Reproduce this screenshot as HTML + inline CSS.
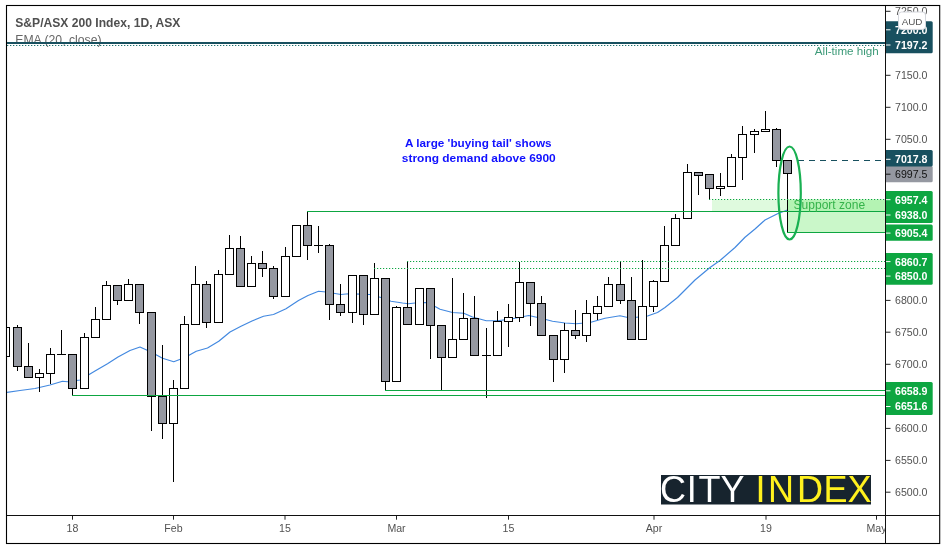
<!DOCTYPE html>
<html><head><meta charset="utf-8"><title>S&amp;P/ASX 200 Index</title>
<style>
html,body{margin:0;padding:0;background:#fff;}
body{width:946px;height:550px;overflow:hidden;font-family:"Liberation Sans",sans-serif;}
svg{display:block}
.ax{font-family:"Liberation Sans",sans-serif;font-size:10.6px;fill:#525252}
.axb{font-family:"Liberation Sans",sans-serif;font-size:10.6px;font-weight:bold}
</style></head><body>
<svg width="946" height="550" viewBox="0 0 946 550">
<rect width="946" height="550" fill="#fff"/>
<defs><clipPath id="plot"><rect x="7" y="6" width="879" height="509.5"/></clipPath><clipPath id="xax"><rect x="7" y="516" width="878.5" height="27"/></clipPath></defs>
<!-- title -->
<text x="15.3" y="27.2" font-size="12.2" font-weight="bold" fill="#505050" textLength="165" lengthAdjust="spacingAndGlyphs">S&amp;P/ASX 200 Index, 1D, ASX</text>
<text x="15.3" y="44" font-size="12" fill="#666" textLength="86.2" lengthAdjust="spacingAndGlyphs">EMA (20, close)</text>
<g clip-path="url(#plot)">
<!-- support zones -->
<rect x="712" y="199.5" width="174" height="12" fill="#5ee85a" fill-opacity="0.2"/>
<rect x="788" y="199.5" width="98" height="33" fill="#5ee85a" fill-opacity="0.33"/>
<!-- all time high -->
<line x1="7" y1="43" x2="886" y2="43" stroke="#18505f" stroke-width="2.2"/>
<line x1="7" y1="45.5" x2="886" y2="45.5" stroke="#21706f" stroke-width="1.1" stroke-dasharray="1.3 1.7"/>
<text x="878.8" y="54.6" text-anchor="end" font-size="10.8" fill="#3c9a78" textLength="64" lengthAdjust="spacingAndGlyphs">All-time high</text>
<!-- EMA -->
<path d="M6.5,392.5 L20,390.5 L35,388.5 L50,385 L62.5,381.25 L67.5,381.75 L80,380 L95,371 L107.5,363.75 L118,357 L130,350.5 L140,347 L151,352 L162.5,358.25 L173.75,361.75 L185,357.5 L196.25,351.25 L207.5,348 L218.75,341.25 L230,332 L241,326.25 L252,321 L263.5,316.25 L273.5,314.5 L286,308.75 L298.5,300.5 L308,295.5 L318.5,291.25 L326,292 L341,294.5 L348.5,293.75 L360,294.2 L369.75,294.5 L381,297.5 L391,301.25 L402.5,303 L408.5,303.75 L415,303 L426,302.5 L436,307 L440,309.25 L452.5,312.5 L463.75,313.25 L472.5,317 L486.25,320.75 L497.5,320.75 L512.5,318.75 L528.75,315.5 L540,318 L552.5,321.25 L565,323 L576.25,323.75 L590,322.5 L605,318.25 L620,315.75 L630,318 L647.5,316 L657.5,312.5 L665,307.5 L677.5,297.5 L695,280 L710,267.5 L720,260.5 L735,247.5 L745,237.25 L755,229 L765,220 L777.5,213.75 L787.5,210" fill="none" stroke="#4389e0" stroke-width="1.2" stroke-linejoin="round"/>
<!-- candles -->
<g stroke="#000" stroke-width="1">
<rect x="1.5" y="327.5" width="8" height="29.0" fill="#fff"/>
<line x1="17.5" y1="325" x2="17.5" y2="371"/><rect x="13.5" y="327.5" width="8" height="39.0" fill="#9598a1"/>
<line x1="28.5" y1="343" x2="28.5" y2="377.5"/><rect x="24.5" y="366.5" width="8" height="11.0" fill="#9598a1"/>
<line x1="39.5" y1="369" x2="39.5" y2="392"/><rect x="35.5" y="373.5" width="8" height="4.0" fill="#fff"/>
<line x1="50.5" y1="348" x2="50.5" y2="384"/><rect x="46.5" y="354.5" width="8" height="19.0" fill="#fff"/>
<line x1="61.5" y1="330" x2="61.5" y2="354.5"/><line x1="57.0" y1="354.5" x2="66.0" y2="354.5"/>
<line x1="72.5" y1="354.5" x2="72.5" y2="396"/><rect x="68.5" y="354.5" width="8" height="34.0" fill="#9598a1"/>
<line x1="84.5" y1="333" x2="84.5" y2="388.5"/><rect x="80.5" y="337.5" width="8" height="51.0" fill="#fff"/>
<line x1="95.5" y1="307" x2="95.5" y2="337.5"/><rect x="91.5" y="319.5" width="8" height="18.0" fill="#fff"/>
<line x1="106.5" y1="281" x2="106.5" y2="319.5"/><rect x="102.5" y="285.5" width="8" height="34.0" fill="#fff"/>
<line x1="117.5" y1="285.5" x2="117.5" y2="305"/><rect x="113.5" y="285.5" width="8" height="15.0" fill="#9598a1"/>
<line x1="128.5" y1="279" x2="128.5" y2="300.5"/><rect x="124.5" y="284.5" width="8" height="16.0" fill="#fff"/>
<line x1="139.5" y1="284.5" x2="139.5" y2="324"/><rect x="135.5" y="284.5" width="8" height="28.0" fill="#9598a1"/>
<line x1="151.5" y1="312.5" x2="151.5" y2="431"/><rect x="147.5" y="312.5" width="8" height="84.0" fill="#9598a1"/>
<line x1="162.5" y1="345" x2="162.5" y2="439"/><rect x="158.5" y="396.5" width="8" height="27.0" fill="#9598a1"/>
<line x1="173.5" y1="380" x2="173.5" y2="482"/><rect x="169.5" y="388.5" width="8" height="35.0" fill="#fff"/>
<line x1="184.5" y1="316" x2="184.5" y2="388.5"/><rect x="180.5" y="324.5" width="8" height="64.0" fill="#fff"/>
<line x1="195.5" y1="266" x2="195.5" y2="324.5"/><rect x="191.5" y="284.5" width="8" height="40.0" fill="#fff"/>
<line x1="206.5" y1="281" x2="206.5" y2="328"/><rect x="202.5" y="284.5" width="8" height="38.0" fill="#9598a1"/>
<line x1="218.5" y1="270" x2="218.5" y2="322.5"/><rect x="214.5" y="274.5" width="8" height="48.0" fill="#fff"/>
<line x1="229.5" y1="235" x2="229.5" y2="274.5"/><rect x="225.5" y="248.5" width="8" height="26.0" fill="#fff"/>
<line x1="240.5" y1="236" x2="240.5" y2="286.5"/><rect x="236.5" y="248.5" width="8" height="38.0" fill="#9598a1"/>
<line x1="251.5" y1="256" x2="251.5" y2="286.5"/><rect x="247.5" y="263.5" width="8" height="23.0" fill="#fff"/>
<line x1="262.5" y1="251" x2="262.5" y2="277"/><rect x="258.5" y="263.5" width="8" height="5.0" fill="#9598a1"/>
<line x1="273.5" y1="266" x2="273.5" y2="299"/><rect x="269.5" y="268.5" width="8" height="28.0" fill="#9598a1"/>
<line x1="285.5" y1="247" x2="285.5" y2="296.5"/><rect x="281.5" y="256.5" width="8" height="40.0" fill="#fff"/>
<rect x="292.5" y="225.5" width="8" height="31.0" fill="#fff"/>
<line x1="307.5" y1="211" x2="307.5" y2="260"/><rect x="303.5" y="225.5" width="8" height="20.0" fill="#9598a1"/>
<line x1="318.5" y1="226" x2="318.5" y2="253"/><line x1="314.0" y1="245.5" x2="323.0" y2="245.5"/>
<line x1="329.5" y1="244" x2="329.5" y2="320"/><rect x="325.5" y="245.5" width="8" height="59.0" fill="#9598a1"/>
<line x1="340.5" y1="284" x2="340.5" y2="316"/><rect x="336.5" y="304.5" width="8" height="8.0" fill="#9598a1"/>
<line x1="352.5" y1="275.5" x2="352.5" y2="323"/><rect x="348.5" y="275.5" width="8" height="37.0" fill="#fff"/>
<line x1="363.5" y1="275.5" x2="363.5" y2="325"/><rect x="359.5" y="275.5" width="8" height="39.0" fill="#9598a1"/>
<line x1="374.5" y1="263" x2="374.5" y2="314.5"/><rect x="370.5" y="278.5" width="8" height="36.0" fill="#fff"/>
<line x1="385.5" y1="278.5" x2="385.5" y2="390"/><rect x="381.5" y="278.5" width="8" height="103.0" fill="#9598a1"/>
<line x1="396.5" y1="306" x2="396.5" y2="382"/><rect x="392.5" y="307.5" width="8" height="74.0" fill="#fff"/>
<line x1="407.5" y1="261" x2="407.5" y2="324.5"/><rect x="403.5" y="307.5" width="8" height="17.0" fill="#9598a1"/>
<rect x="415.5" y="288.5" width="8" height="36.0" fill="#fff"/>
<line x1="430.5" y1="288.5" x2="430.5" y2="359"/><rect x="426.5" y="288.5" width="8" height="37.0" fill="#9598a1"/>
<line x1="441.5" y1="325.5" x2="441.5" y2="390"/><rect x="437.5" y="325.5" width="8" height="32.0" fill="#9598a1"/>
<line x1="452.5" y1="278" x2="452.5" y2="357.5"/><rect x="448.5" y="339.5" width="8" height="18.0" fill="#fff"/>
<line x1="463.5" y1="293" x2="463.5" y2="339.5"/><rect x="459.5" y="318.5" width="8" height="21.0" fill="#fff"/>
<line x1="474.5" y1="296" x2="474.5" y2="355.5"/><rect x="470.5" y="318.5" width="8" height="37.0" fill="#9598a1"/>
<line x1="486.5" y1="328" x2="486.5" y2="398"/><line x1="482.0" y1="355.5" x2="491.0" y2="355.5"/>
<line x1="497.5" y1="311" x2="497.5" y2="355.5"/><rect x="493.5" y="321.5" width="8" height="34.0" fill="#fff"/>
<line x1="508.5" y1="304" x2="508.5" y2="347"/><rect x="504.5" y="317.5" width="8" height="4.0" fill="#fff"/>
<line x1="519.5" y1="262" x2="519.5" y2="322"/><rect x="515.5" y="282.5" width="8" height="35.0" fill="#fff"/>
<line x1="530.5" y1="282.5" x2="530.5" y2="326"/><rect x="526.5" y="282.5" width="8" height="21.0" fill="#9598a1"/>
<line x1="541.5" y1="296" x2="541.5" y2="335.5"/><rect x="537.5" y="303.5" width="8" height="32.0" fill="#9598a1"/>
<line x1="553.5" y1="335.5" x2="553.5" y2="382"/><rect x="549.5" y="335.5" width="8" height="24.0" fill="#9598a1"/>
<line x1="564.5" y1="323" x2="564.5" y2="373"/><rect x="560.5" y="330.5" width="8" height="29.0" fill="#fff"/>
<line x1="575.5" y1="310" x2="575.5" y2="339"/><rect x="571.5" y="330.5" width="8" height="5.0" fill="#9598a1"/>
<line x1="586.5" y1="300" x2="586.5" y2="342"/><rect x="582.5" y="313.5" width="8" height="22.0" fill="#fff"/>
<line x1="597.5" y1="296" x2="597.5" y2="320"/><rect x="593.5" y="306.5" width="8" height="7.0" fill="#fff"/>
<line x1="608.5" y1="277" x2="608.5" y2="306.5"/><rect x="604.5" y="284.5" width="8" height="22.0" fill="#fff"/>
<line x1="620.5" y1="261" x2="620.5" y2="304"/><rect x="616.5" y="284.5" width="8" height="16.0" fill="#9598a1"/>
<line x1="631.5" y1="277" x2="631.5" y2="339.5"/><rect x="627.5" y="300.5" width="8" height="39.0" fill="#9598a1"/>
<line x1="642.5" y1="260" x2="642.5" y2="339.5"/><rect x="638.5" y="306.5" width="8" height="33.0" fill="#fff"/>
<line x1="653.5" y1="280" x2="653.5" y2="312"/><rect x="649.5" y="281.5" width="8" height="25.0" fill="#fff"/>
<line x1="664.5" y1="226" x2="664.5" y2="281.5"/><rect x="660.5" y="245.5" width="8" height="36.0" fill="#fff"/>
<line x1="675.5" y1="214" x2="675.5" y2="245.5"/><rect x="671.5" y="218.5" width="8" height="27.0" fill="#fff"/>
<line x1="687.5" y1="164" x2="687.5" y2="218.5"/><rect x="683.5" y="172.5" width="8" height="46.0" fill="#fff"/>
<line x1="698.5" y1="172.5" x2="698.5" y2="195"/><rect x="694.5" y="172.5" width="8" height="3.0" fill="#9598a1"/>
<line x1="709.5" y1="174.5" x2="709.5" y2="200"/><rect x="705.5" y="174.5" width="8" height="14.0" fill="#9598a1"/>
<line x1="720.5" y1="173" x2="720.5" y2="196"/><rect x="716.5" y="186.5" width="8" height="2.0" fill="#fff"/>
<line x1="731.5" y1="154" x2="731.5" y2="186.5"/><rect x="727.5" y="157.5" width="8" height="29.0" fill="#fff"/>
<line x1="742.5" y1="126" x2="742.5" y2="180"/><rect x="738.5" y="134.5" width="8" height="23.0" fill="#fff"/>
<line x1="754.5" y1="129" x2="754.5" y2="153"/><rect x="750.5" y="131.5" width="8" height="3.0" fill="#fff"/>
<line x1="765.5" y1="111" x2="765.5" y2="131.5"/><rect x="761.5" y="129.5" width="8" height="2.0" fill="#fff"/>
<line x1="776.5" y1="128" x2="776.5" y2="167"/><rect x="772.5" y="129.5" width="8" height="31.0" fill="#9598a1"/>
<line x1="787.5" y1="160.5" x2="787.5" y2="232"/><rect x="783.5" y="160.5" width="8" height="13.0" fill="#9598a1"/>
</g>
<!-- green levels -->
<path d="M307,211.5H886 M72,395.5H886 M385,390.5H886 M787,232.5H886" stroke="#0da641" stroke-width="1.15" fill="none"/>
<path d="M709,199.5H886 M407,261.5H886 M374,268.5H886" stroke="#0da641" stroke-width="1.1" stroke-dasharray="1.2 1.8" fill="none"/>
<line x1="798" y1="160.5" x2="886" y2="160.5" stroke="#18505f" stroke-width="1.1" stroke-dasharray="6 5"/>
<text x="793.6" y="209.3" font-size="12" fill="#35b34a" textLength="71.5" lengthAdjust="spacingAndGlyphs">Support zone</text>
<ellipse cx="789.6" cy="193" rx="11.2" ry="46.5" fill="none" stroke="#19b052" stroke-width="2.2"/>
<!-- annotation -->
<g font-size="11.8" font-weight="bold" fill="#1010ff" text-anchor="middle">
<text x="478.3" y="146.8" textLength="146.6" lengthAdjust="spacingAndGlyphs">A large 'buying tail' shows</text>
<text x="478.8" y="162" textLength="153.9" lengthAdjust="spacingAndGlyphs">strong demand above 6900</text>
</g>
<!-- logo -->
<rect x="661" y="475" width="210" height="29.5" fill="#17242e"/>
<text x="673.1 691.85 709.55 732.55" y="502.3" font-size="36" fill="#fff" text-anchor="middle">CITY</text>
<text x="760.6 781 810.1 835.6 859.6" y="502.3" font-size="36" fill="#fff11e" text-anchor="middle">INDEX</text>
</g>
<!-- axes -->
<line x1="886" y1="11.3" x2="890.5" y2="11.3" stroke="#222" stroke-width="1"/><text x="895" y="15.100000000000001" class="ax">7250.0</text><line x1="886" y1="29.8" x2="890.5" y2="29.8" stroke="#222" stroke-width="1"/><text x="895" y="33.6" class="ax">7200.0</text><line x1="886" y1="75.3" x2="890.5" y2="75.3" stroke="#222" stroke-width="1"/><text x="895" y="79.1" class="ax">7150.0</text><line x1="886" y1="107.3" x2="890.5" y2="107.3" stroke="#222" stroke-width="1"/><text x="895" y="111.1" class="ax">7100.0</text><line x1="886" y1="139.3" x2="890.5" y2="139.3" stroke="#222" stroke-width="1"/><text x="895" y="143.10000000000002" class="ax">7050.0</text><line x1="886" y1="300.4" x2="890.5" y2="300.4" stroke="#222" stroke-width="1"/><text x="895" y="304.2" class="ax">6800.0</text><line x1="886" y1="332.2" x2="890.5" y2="332.2" stroke="#222" stroke-width="1"/><text x="895" y="336.0" class="ax">6750.0</text><line x1="886" y1="364.3" x2="890.5" y2="364.3" stroke="#222" stroke-width="1"/><text x="895" y="368.1" class="ax">6700.0</text><line x1="886" y1="428.4" x2="890.5" y2="428.4" stroke="#222" stroke-width="1"/><text x="895" y="432.2" class="ax">6600.0</text><line x1="886" y1="460.4" x2="890.5" y2="460.4" stroke="#222" stroke-width="1"/><text x="895" y="464.2" class="ax">6550.0</text><line x1="886" y1="492.2" x2="890.5" y2="492.2" stroke="#222" stroke-width="1"/><text x="895" y="496.0" class="ax">6500.0</text>
<path d="M886,21.2H931.2Q932.7,21.2 932.7,22.7V51.8Q932.7,53.3 931.2,53.3H886Z" fill="#18505f"/><line x1="886" y1="29.8" x2="890.5" y2="29.8" stroke="#fff" stroke-width="1"/><text x="895" y="33.7" class="axb" style="fill:#fff">7200.0</text><line x1="886" y1="45" x2="890.5" y2="45" stroke="#fff" stroke-width="1"/><text x="895" y="48.9" class="axb" style="fill:#fff">7197.2</text>
<path d="M886,166H931.2Q932.7,166 932.7,167.5V180.7Q932.7,182.2 931.2,182.2H886Z" fill="#9598a1"/><line x1="886" y1="174.2" x2="890.5" y2="174.2" stroke="#111" stroke-width="1"/><text x="895" y="178.1" class="ax" style="fill:#111">6997.5</text>
<path d="M886,150H931.2Q932.7,150 932.7,151.5V165.1Q932.7,166.6 931.2,166.6H886Z" fill="#18505f"/><line x1="886" y1="159.3" x2="890.5" y2="159.3" stroke="#fff" stroke-width="1"/><text x="895" y="163.20000000000002" class="axb" style="fill:#fff">7017.8</text>
<path d="M886,191H931.2Q932.7,191 932.7,192.5V221.4Q932.7,222.9 931.2,222.9H886Z" fill="#0da641"/><line x1="886" y1="199.7" x2="890.5" y2="199.7" stroke="#fff" stroke-width="1"/><text x="895" y="203.6" class="axb" style="fill:#fff">6957.4</text><line x1="886" y1="215" x2="890.5" y2="215" stroke="#fff" stroke-width="1"/><text x="895" y="218.9" class="axb" style="fill:#fff">6938.0</text>
<path d="M886,224.5H931.2Q932.7,224.5 932.7,226.0V239.2Q932.7,240.7 931.2,240.7H886Z" fill="#0da641"/><line x1="886" y1="233.1" x2="890.5" y2="233.1" stroke="#fff" stroke-width="1"/><text x="895" y="237.0" class="axb" style="fill:#fff">6905.4</text>
<path d="M886,252.9H931.2Q932.7,252.9 932.7,254.4V283.2Q932.7,284.7 931.2,284.7H886Z" fill="#0da641"/><line x1="886" y1="261.6" x2="890.5" y2="261.6" stroke="#fff" stroke-width="1"/><text x="895" y="265.5" class="axb" style="fill:#fff">6860.7</text><line x1="886" y1="276.1" x2="890.5" y2="276.1" stroke="#fff" stroke-width="1"/><text x="895" y="280.0" class="axb" style="fill:#fff">6850.0</text>
<path d="M886,382H931.2Q932.7,382 932.7,383.5V413.4Q932.7,414.9 931.2,414.9H886Z" fill="#0da641"/><line x1="886" y1="390.8" x2="890.5" y2="390.8" stroke="#fff" stroke-width="1"/><text x="895" y="394.7" class="axb" style="fill:#fff">6658.9</text><line x1="886" y1="406.5" x2="890.5" y2="406.5" stroke="#fff" stroke-width="1"/><text x="895" y="410.4" class="axb" style="fill:#fff">6651.6</text>
<rect x="898.5" y="12" width="27" height="17.4" rx="3" fill="#fff" stroke="#d4d6dc" stroke-width="1"/>
<text x="912.1" y="24.6" text-anchor="middle" font-size="9.9" fill="#555">AUD</text>
<g clip-path="url(#xax)"><line x1="72.5" y1="515.5" x2="72.5" y2="519.7" stroke="#222"/><text x="72.5" y="531.8" text-anchor="middle" class="ax">18</text><line x1="173.5" y1="515.5" x2="173.5" y2="519.7" stroke="#222"/><text x="173.5" y="531.8" text-anchor="middle" class="ax">Feb</text><line x1="285" y1="515.5" x2="285" y2="519.7" stroke="#222"/><text x="285" y="531.8" text-anchor="middle" class="ax">15</text><line x1="396.5" y1="515.5" x2="396.5" y2="519.7" stroke="#222"/><text x="396.5" y="531.8" text-anchor="middle" class="ax">Mar</text><line x1="508.5" y1="515.5" x2="508.5" y2="519.7" stroke="#222"/><text x="508.5" y="531.8" text-anchor="middle" class="ax">15</text><line x1="654" y1="515.5" x2="654" y2="519.7" stroke="#222"/><text x="654" y="531.8" text-anchor="middle" class="ax">Apr</text><line x1="766" y1="515.5" x2="766" y2="519.7" stroke="#222"/><text x="766" y="531.8" text-anchor="middle" class="ax">19</text><line x1="876.5" y1="515.5" x2="876.5" y2="519.7" stroke="#222"/><text x="876.5" y="531.8" text-anchor="middle" class="ax">May</text></g>
<!-- frame -->
<path d="M7,515.5H940 M885.5,6V543.5" stroke="#111" stroke-width="1" fill="none"/>
<rect x="6.5" y="5.5" width="933.2" height="538" fill="none" stroke="#000" stroke-width="1.1"/>
</svg>
</body></html>
